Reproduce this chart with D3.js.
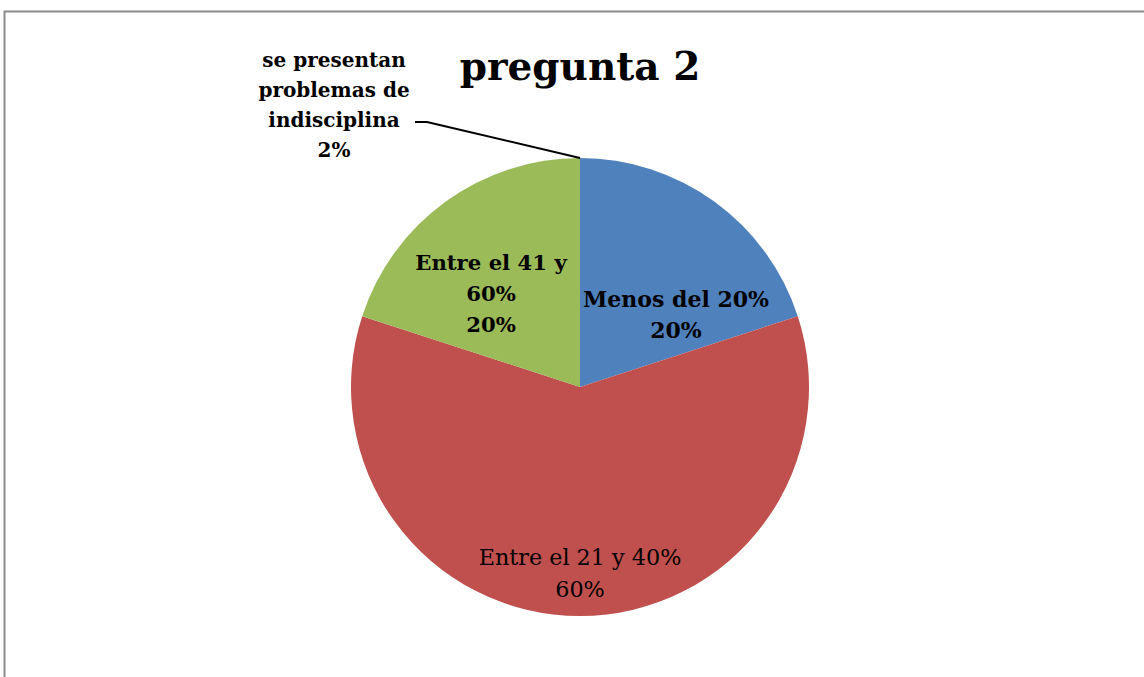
<!DOCTYPE html>
<html>
<head>
<meta charset="utf-8">
<script src="https://cdn.jsdelivr.net/npm/d3@7"></script>
<style>
  body { margin: 0; background: #fff; }
  svg { display: block; font-family: "DejaVu Serif", "Liberation Serif", serif; }
</style>
</head>
<body>
<script>
// chart data
var categories = ["Menos del 20%", "Entre el 21 y 40%", "Entre el 41 y 60%", "se presentan problemas de indisciplina"];
var values = [20, 60, 20, 0];
var percentLabels = ["20%", "60%", "20%", "2%"];
var colors = ["#4F81BD", "#C0504D", "#9BBB59", "#8064A2"];
var title = "pregunta 2";

var width = 1144, height = 677;
var cx = 580, cy = 387, radius = 229;

var svg = d3.select("body").append("svg")
  .attr("width", width)
  .attr("height", height);

// chart area border
svg.append("path")
  .attr("d", "M4.5," + height + "V11.5H" + width)
  .attr("fill", "none")
  .attr("stroke", "#8c8c8c")
  .attr("stroke-width", 2);

svg.append("text")
  .attr("x", 580)
  .attr("y", 80)
  .attr("text-anchor", "middle")
  .style("font-size", "39px")
  .style("font-weight", "bold")
  .text(title);

var pie = d3.pie().sort(null).value(function (d) { return d; });
var arcs = pie(values);
var arc = d3.arc().innerRadius(0).outerRadius(radius);

var g = svg.append("g").attr("transform", "translate(" + cx + "," + cy + ")");

g.selectAll("path")
  .data(arcs)
  .enter()
  .append("path")
  .attr("d", arc)
  .attr("fill", function (d, i) { return colors[i]; });

// label layouts: lines, position relative to centre, weight, size
var labelSpecs = [
  { lines: [categories[0], percentLabels[0]], x: 96, y: -80, bold: true, size: 22, lh: 31 },
  { lines: ["Entre el 21 y 40%", percentLabels[1]], x: 0, y: 178, bold: false, size: 22.3, lh: 32 },
  { lines: ["Entre el 41 y", "60%", percentLabels[2]], x: -89, y: -117, bold: true, size: 21.2, lh: 31 },
  { lines: ["se presentan", "problemas de", "indisciplina", percentLabels[3]], x: -246, y: -320, bold: true, size: 20, lh: 30 }
];

labelSpecs.forEach(function (s) {
  var t = g.append("text")
    .attr("text-anchor", "middle")
    .style("font-size", s.size + "px")
    .style("font-weight", s.bold ? "bold" : "normal")
    .attr("fill", "#000");
  s.lines.forEach(function (line, k) {
    t.append("tspan")
      .attr("x", s.x)
      .attr("y", s.y + k * s.lh)
      .text(line);
  });
});

// leader line for the tiny slice
var tiny = arcs[3];
var edge = d3.arc().innerRadius(radius).outerRadius(radius).centroid(tiny);
g.append("polyline")
  .attr("points", [[-165, -265], [-153, -265], edge].map(function (p) { return p.join(","); }).join(" "))
  .attr("fill", "none")
  .attr("stroke", "#000")
  .attr("stroke-width", 2);
</script>
</body>
</html>
